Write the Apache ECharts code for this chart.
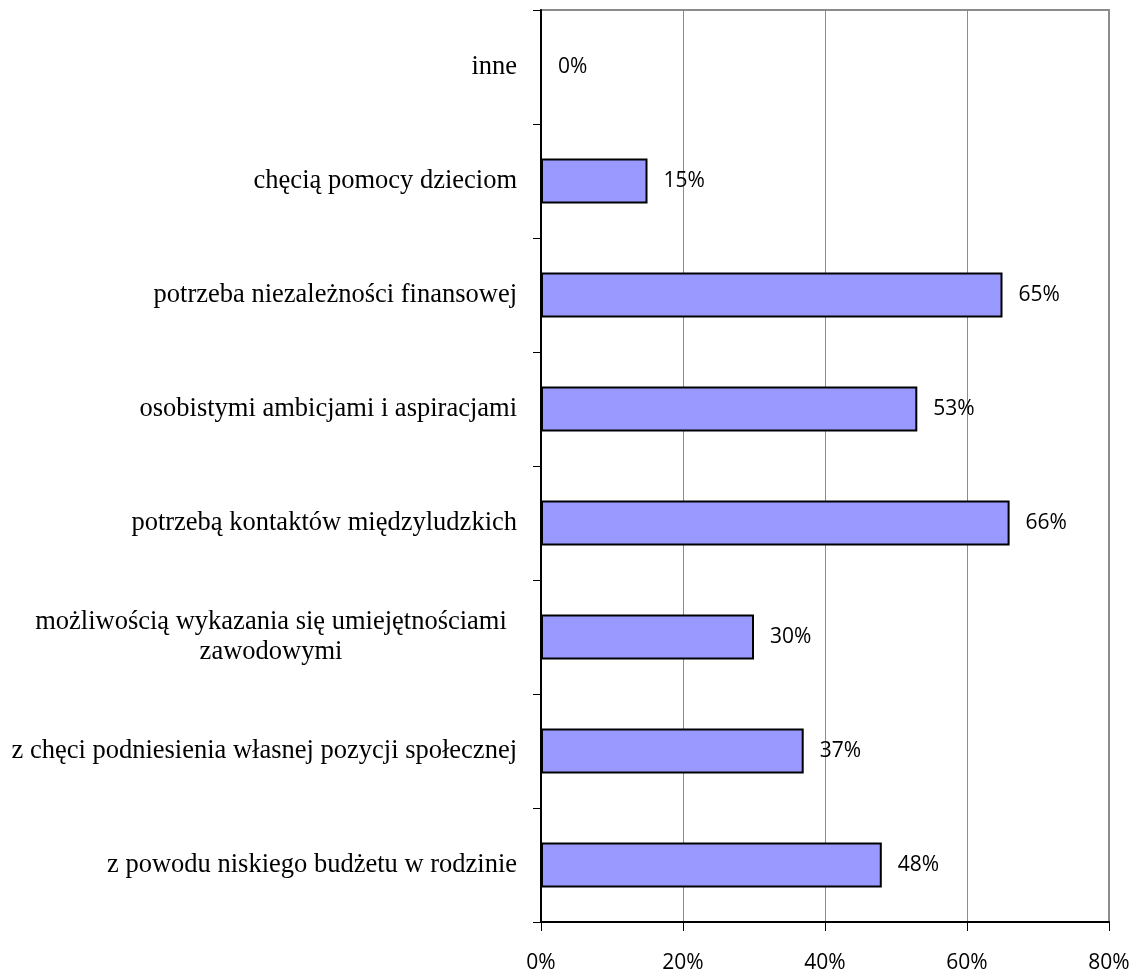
<!DOCTYPE html>
<html>
<head>
<meta charset="utf-8">
<script src="https://cdn.jsdelivr.net/npm/echarts@6/dist/echarts.min.js"></script>
<style>
  html, body { margin: 0; padding: 0; background: #ffffff; }
  #chart { width: 1138px; height: 974px; }
</style>
</head>
<body>
<div id="chart"></div>
<script>
// Motives for taking up work (share of respondents, %)
const categories = [
  'inne',
  'chęcią pomocy dzieciom',
  'potrzeba niezależności finansowej',
  'osobistymi ambicjami i aspiracjami',
  'potrzebą kontaktów międzyludzkich',
  'możliwością wykazania się umiejętnościami\nzawodowymi',
  'z chęci podniesienia własnej pozycji społecznej',
  'z powodu niskiego budżetu w rodzinie'
];
const values = [0, 15, 65, 53, 66, 30, 37, 48];
const tickValues = [0, 20, 40, 60, 80];

const serif = '"Liberation Serif", "Times New Roman", serif';
const sans = '"Open Sans", "Liberation Sans", sans-serif';

const chart = echarts.init(document.getElementById('chart'), null, { renderer: 'canvas' });

chart.setOption({
  animation: false,
  backgroundColor: '#ffffff',
  grid: {
    left: 541,
    right: 29,
    top: 10,
    bottom: 52,
    show: true,
    borderColor: '#8c8c8c',
    borderWidth: 2,
    containLabel: false
  },
  xAxis: {
    type: 'value',
    min: tickValues[0],
    max: tickValues[tickValues.length - 1],
    interval: tickValues[1] - tickValues[0],
    axisLine: { show: true, lineStyle: { color: '#000', width: 2 } },
    axisTick: { show: true, length: 9, lineStyle: { color: '#000', width: 1 } },
    splitLine: { show: true, lineStyle: { color: '#8c8c8c', width: 1 } },
    axisLabel: {
      formatter: '{value}%',
      margin: 31,
      color: '#000',
      fontFamily: sans,
      fontSize: 21
    }
  },
  yAxis: {
    type: 'category',
    inverse: true,
    data: categories,
    axisLine: { show: true, lineStyle: { color: '#000', width: 2 } },
    axisTick: { show: true, length: 8, alignWithLabel: false, lineStyle: { color: '#000', width: 1 } },
    splitLine: { show: false },
    axisLabel: {
      margin: 24,
      color: '#000',
      fontFamily: serif,
      fontSize: 26.5,
      lineHeight: 30,
      formatter: function (v) {
        if (v.indexOf('\n') < 0) return v;
        // wrapped label: both lines centred inside a fixed-width block
        return v.split('\n').map(function (s) { return '{c|' + s + '}'; }).join('\n');
      },
      rich: {
        c: {
          width: 492,
          align: 'center',
          fontFamily: serif,
          fontSize: 26.5,
          lineHeight: 30,
          color: '#000'
        }
      }
    }
  },
  series: [{
    type: 'bar',
    data: values,
    barWidth: 45,
    itemStyle: {
      color: '#9999ff',
      borderColor: '#000',
      borderWidth: 2
    },
    label: {
      show: true,
      position: 'right',
      distance: 16,
      formatter: '{c}%',
      color: '#000',
      fontFamily: sans,
      fontSize: 21
    }
  }]
});
</script>
</body>
</html>
